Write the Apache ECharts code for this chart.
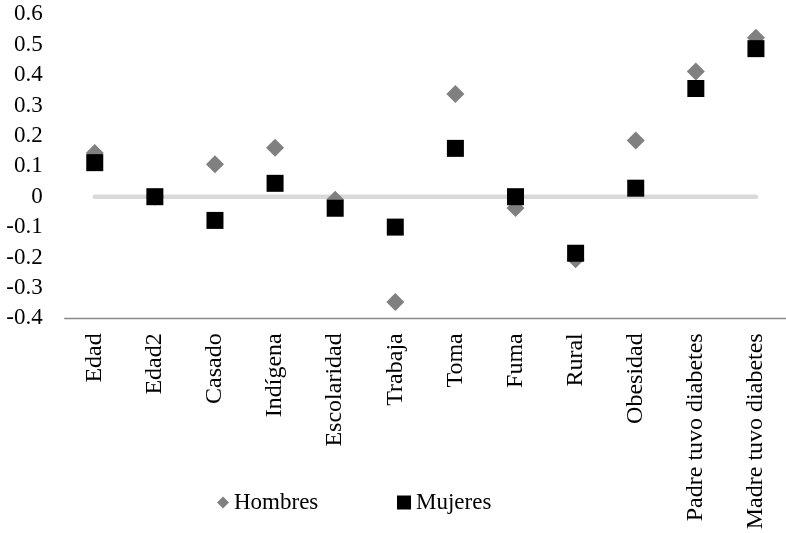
<!DOCTYPE html>
<html>
<head>
<meta charset="utf-8">
<script src="https://cdn.jsdelivr.net/npm/echarts@6/dist/echarts.min.js"></script>
<style>
  html, body { margin: 0; padding: 0; background: #ffffff; }
  #chart { width: 786px; height: 533px; }
</style>
</head>
<body>
<div id="chart"></div>
<script>
const categories = ['Edad', 'Edad2', 'Casado', 'Indígena', 'Escolaridad', 'Trabaja', 'Toma', 'Fuma', 'Rural', 'Obesidad', 'Padre tuvo diabetes', 'Madre tuvo diabetes'];
const hombres = [0.144, 0.0, 0.107, 0.161, -0.01, -0.346, 0.338, -0.037, -0.206, 0.185, 0.412, 0.523];
const mujeres = [0.112, 0.0, -0.078, 0.044, -0.038, -0.1, 0.159, 0.0, -0.186, 0.028, 0.356, 0.487];
const zeroLine = [0, 0, 0, 0, 0, 0, 0, 0, 0, 0, 0, 0];
const yTicks = { min: -0.4, max: 0.6, interval: 0.1 };

const FONT = 'Liberation Serif';
const chart = echarts.init(document.getElementById('chart'), null, { renderer: 'canvas' });

chart.setOption({
  animation: false,
  backgroundColor: '#ffffff',
  grid: { left: 64.7, right: -5.3, top: 14.3, bottom: 214.7, containLabel: false },
  legend: [
    {
      left: 212, top: 486,
      itemWidth: 12, itemHeight: 12,
      data: [{ name: 'Hombres', icon: 'diamond' }],
      textStyle: { fontFamily: FONT, fontSize: 23, color: '#000' }
    },
    {
      left: 392, top: 486,
      itemWidth: 14, itemHeight: 14,
      data: [{ name: 'Mujeres', icon: 'rect' }],
      textStyle: { fontFamily: FONT, fontSize: 23, color: '#000' }
    }
  ],
  xAxis: {
    type: 'category',
    data: categories,
    boundaryGap: true,
    axisLine: { show: true, onZero: false, lineStyle: { color: '#898989', width: 1.4 } },
    axisTick: { show: false },
    axisLabel: {
      rotate: 90, margin: 15, interval: 0,
      fontFamily: FONT, fontSize: 24, color: '#000'
    },
    splitLine: { show: false }
  },
  yAxis: {
    type: 'value',
    min: yTicks.min, max: yTicks.max, interval: yTicks.interval,
    axisLine: { show: false },
    axisTick: { show: false },
    splitLine: { show: false },
    axisLabel: {
      margin: 22,
      fontFamily: FONT, fontSize: 23, color: '#000',
      formatter: v => {
        const r = Math.round(v * 10) / 10;
        return r === 0 ? '0' : String(r);
      }
    }
  },
  series: [
    {
      name: 'cero', type: 'line', data: zeroLine,
      symbol: 'none', silent: true, z: 1,
      lineStyle: { color: '#d9d9d9', width: 4.5, cap: 'round', opacity: 1 }
    },
    {
      name: 'Hombres', type: 'scatter', data: hombres,
      symbol: 'diamond', symbolSize: 18, z: 2,
      itemStyle: { color: '#808080', opacity: 1 }
    },
    {
      name: 'Mujeres', type: 'scatter', data: mujeres,
      symbol: 'rect', symbolSize: 17, z: 3,
      itemStyle: { color: '#000000', opacity: 1 }
    }
  ]
});
</script>
</body>
</html>
